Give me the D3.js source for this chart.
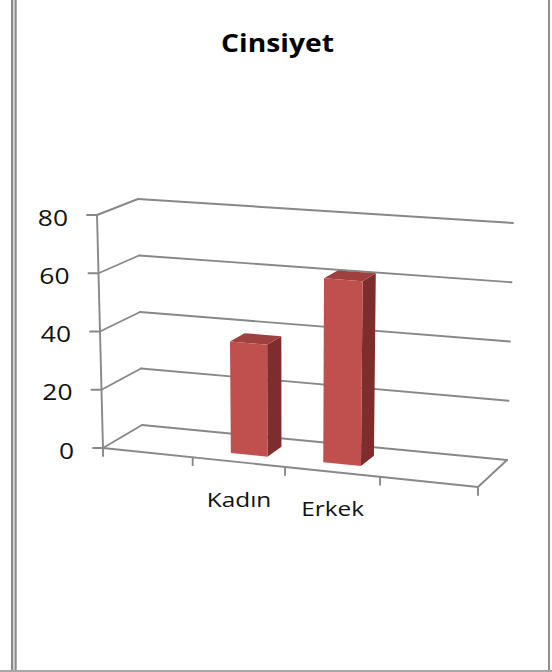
<!DOCTYPE html>
<html>
<head>
<meta charset="utf-8">
<script src="https://cdn.jsdelivr.net/npm/d3@7"></script>
<style>
  html, body { margin: 0; padding: 0; background: #ffffff; }
  svg { display: block; }
</style>
</head>
<body>
<svg id="chart" width="552" height="672"></svg>
<script>
// ---- data ----
const chartTitle = "Cinsiyet";
const categories = ["Kadın", "Erkek"];
const values = [38, 62];
const yTicks = [0, 20, 40, 60, 80];
const yMax = 80;

// ---- setup ----
const W = 552, H = 672;
const svg = d3.select("#chart");
const FONT = "'Open Sans', 'DejaVu Sans', sans-serif";
const GRID = "#888888";

// page frame: double rule on the left, single rules right and bottom
const frame = svg.append("g");
frame.append("rect").attr("x", 11).attr("y", 0).attr("width", 2.3).attr("height", H).attr("fill", "#8a8a8a");
frame.append("rect").attr("x", 13.3).attr("y", 0).attr("width", 1.4).attr("height", H).attr("fill", "#cfcfcf");
frame.append("rect").attr("x", 14.7).attr("y", 0).attr("width", 2).attr("height", H).attr("fill", "#8a8a8a");
frame.append("rect").attr("x", 548).attr("y", 0).attr("width", 2).attr("height", H).attr("fill", "#8f8f8f");
frame.append("rect").attr("x", 0).attr("y", 670).attr("width", W).attr("height", 2).attr("fill", "#a6a6a6");

// ---- 3D box projection ----
// screen positions of the eight corners of the plot box
// (f = front, b = back, l = left, r = right, 0 = floor, 1 = top)
const box = {
  fl0: [103, 448], fr0: [478, 487], bl0: [142, 425], br0: [507, 460],
  fl1: [97, 215],  fr1: [484, 242], bl1: [138, 199], br1: [513, 223]
};
const lerp = (a, b, t) => [a[0] + (b[0] - a[0]) * t, a[1] + (b[1] - a[1]) * t];
// mild perspective foreshortening across the width
const persp = 0.943;
const warp = u => u * persp / (1 + (persp - 1) * u);
// u: across (0 left .. 1 right), w: depth (0 front .. 1 back), v: height (0 .. 1)
function project(u, w, v) {
  const s = warp(u);
  const f0 = lerp(box.fl0, box.fr0, s), b0 = lerp(box.bl0, box.br0, s);
  const f1 = lerp(box.fl1, box.fr1, s), b1 = lerp(box.bl1, box.br1, s);
  return lerp(lerp(f0, b0, w), lerp(f1, b1, w), v);
}

const y = d3.scaleLinear().domain([0, yMax]).range([0, 1]);
const x = d3.scaleBand().domain(categories).range([0.25, 0.75])
  .paddingInner(0.6).paddingOuter(0.3);
const depth = [0.3, 0.7];

const seg = (g, a, b) => g.append("line")
  .attr("x1", a[0]).attr("y1", a[1]).attr("x2", b[0]).attr("y2", b[1])
  .attr("stroke", GRID).attr("stroke-width", 1.9).attr("stroke-linecap", "round");

// walls: gridlines on the side wall and back wall
const walls = svg.append("g");
yTicks.forEach(t => {
  const v = y(t);
  seg(walls, project(0, 0, v), project(0, 1, v));
  seg(walls, project(0, 1, v), project(1, 1, v));
});
// floor edges
seg(walls, project(0, 0, 0), project(1, 0, 0));
seg(walls, project(1, 0, 0), project(1, 1, 0));

// value axis
const axisY = svg.append("g");
seg(axisY, project(0, 0, 0), project(0, 0, 1));
yTicks.forEach(t => {
  const p = project(0, 0, y(t));
  seg(axisY, [p[0] - 10, p[1]], p);
  axisY.append("text")
    .attr("transform", `translate(${p[0] - 29},${p[1] + 2}) scale(1.2,1)`)
    .attr("text-anchor", "end")
    .attr("dominant-baseline", "central")
    .attr("font-family", FONT).attr("font-size", 22).attr("fill", "#111")
    .text(t);
});

// category axis ticks along the front floor edge
const axisX = svg.append("g");
d3.range(0, 1 + 1e-9, x.step()).forEach(u => {
  const p = project(u, 0, 0);
  seg(axisX, p, [p[0], p[1] + 8]);
});
categories.forEach(c => {
  const p = project(x(c) + x.bandwidth() / 2, 0, 0);
  axisX.append("text")
    .attr("transform", `translate(${p[0] + 0.5},${p[1] + 44.5}) scale(1.22,1)`)
    .attr("text-anchor", "middle")
    .attr("font-family", FONT).attr("font-size", 20).attr("fill", "#111")
    .text(c);
});

// bars as boxes: right side, top, then front face
const pts = arr => arr.map(p => p.join(",")).join(" ");
const bars = svg.append("g");
categories.forEach((c, i) => {
  const u0 = x(c), u1 = u0 + x.bandwidth();
  const [w0, w1] = depth;
  const v = y(values[i]);
  const g = bars.append("g");
  g.append("polygon").attr("fill", "#7d2e2c")
    .attr("points", pts([project(u1, w0, 0), project(u1, w1, 0), project(u1, w1, v), project(u1, w0, v)]));
  g.append("polygon").attr("fill", "#9e403d")
    .attr("points", pts([project(u0, w0, v), project(u1, w0, v), project(u1, w1, v), project(u0, w1, v)]));
  g.append("polygon").attr("fill", "#c0504d")
    .attr("points", pts([project(u0, w0, 0), project(u1, w0, 0), project(u1, w0, v), project(u0, w0, v)]));
});

// title
svg.append("text")
  .attr("transform", `translate(277.5,51.7) scale(1.13,1)`)
  .attr("text-anchor", "middle")
  .attr("font-family", FONT).attr("font-weight", "bold").attr("font-size", 25)
  .attr("fill", "#000")
  .text(chartTitle);
</script>
</body>
</html>
